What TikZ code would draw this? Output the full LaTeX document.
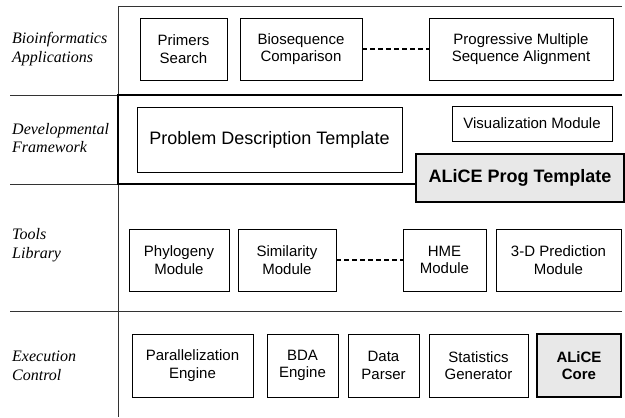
\documentclass[tikz,border=0pt]{standalone}
\usepackage{fontspec}
\setmainfont{Liberation Serif}
\setsansfont{Liberation Sans}
\begin{document}
\begin{tikzpicture}[x=1pt,y=-1pt,
	box/.style={draw,line width=0.9pt,font=\sffamily\fontsize{15}{17.5}\selectfont,align=center,inner sep=0pt},
	corebox/.style={box,line width=2.2pt,fill=black!9,font=\sffamily\bfseries\fontsize{15}{17.5}\selectfont},
	layer/.style={anchor=west,align=left,inner sep=0pt,font=\itshape\fontsize{16}{18.5}\selectfont},
	sep/.style={line width=0.9pt,black!80},
	thick frame/.style={line width=2.2pt},
	etc/.style={line width=1.4pt,dash pattern=on 5pt off 3pt}]
		\useasboundingbox (0,0) rectangle (625,418);

		% frame
		\draw[sep] (118,6) -- (118,417);
		\draw[sep] (118,6) -- (622,6);
		\draw[sep] (10,95) -- (118,95);
		\draw[sep] (10,184) -- (118,184);
		\draw[sep] (10,311) -- (622,311);

		% layer names
		\node[layer] (bioapps) at (12,49) {Bioinformatics\\Applications};
		\node[layer] (devframe) at (12,138) {Developmental\\Framework};
		\node[layer] (toolslib) at (12,245) {Tools\\Library};
		\node[layer] (execctrl) at (12,366) {Execution\\Control};

		% applications
		\node[box,minimum width=87pt,minimum height=62pt] (primers) at (183.5,49) {Primers\\Search};
		\node[box,minimum width=122pt,minimum height=62pt] (bioseq) at (301,49) {Biosequence\\Comparison};
		\node[box,minimum width=184pt,minimum height=62pt] (progmsa) at (521,49) {Progressive Multiple\\Sequence Alignment};
		\draw[etc] (bioseq.east) -- (progmsa.west);

		% framework
		\node[box,minimum width=265pt,minimum height=65pt,font=\sffamily\fontsize{18}{21}\selectfont] (probdesc) at (269.5,139.5) {Problem Description Template};
		\node[box,minimum width=160pt,minimum height=35pt] (visual) at (532,123.5) {Visualization Module};
		\node[corebox,minimum width=208pt,minimum height=48pt,font=\sffamily\bfseries\fontsize{18}{21}\selectfont] (progtmpl) at (520,178) {ALiCE Prog Template};
		\draw[thick frame] (progtmpl.west |- 0,184) -- (118,184) -- (118,95) -- (622,95);

		% tools
		\node[box,minimum width=100pt,minimum height=62pt] (phylo) at (179,260) {Phylogeny\\Module};
		\node[box,minimum width=98pt,minimum height=62pt] (simil) at (287,260) {Similarity\\Module};
		\node[box,minimum width=83pt,minimum height=62pt] (hme) at (444.5,260) {HME\\Module};
		\node[box,minimum width=125pt,minimum height=62pt] (pred3d) at (558.5,260) {3-D Prediction\\Module};
		\draw[etc] (simil.east) -- (hme.west);

		% execution
		\node[box,minimum width=121pt,minimum height=63pt] (paral) at (192.5,365.5) {Parallelization\\Engine};
		\node[box,minimum width=71pt,minimum height=63pt] (bda) at (302.5,365.5) {BDA\\Engine};
		\node[box,minimum width=71pt,minimum height=63pt] (parser) at (383.5,365.5) {Data\\Parser};
		\node[box,minimum width=99pt,minimum height=63pt] (stats) at (478.5,365.5) {Statistics\\Generator};
		\node[corebox,minimum width=84pt,minimum height=63pt] (core) at (579,365.5) {ALiCE\\Core};
	\end{tikzpicture}
\end{document}
